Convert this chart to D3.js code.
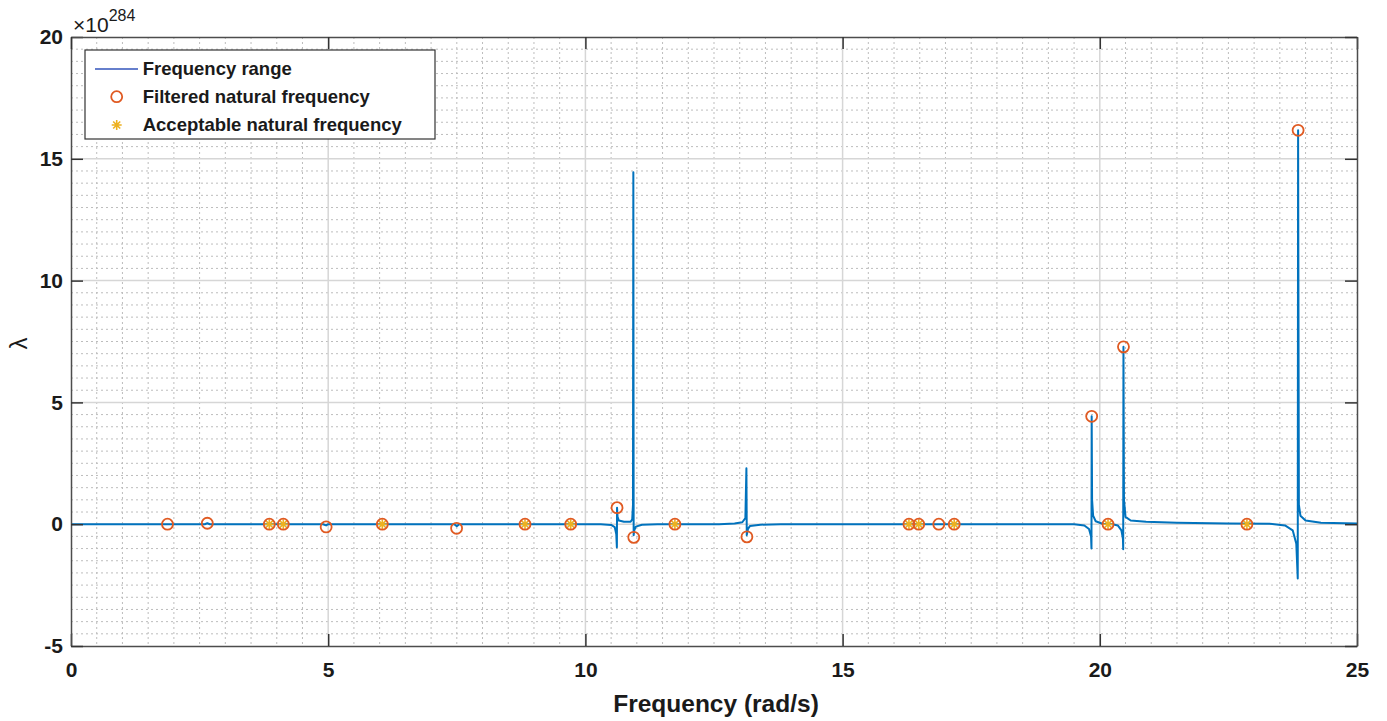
<!DOCTYPE html>
<html>
<head>
<meta charset="utf-8">
<script src="https://cdn.jsdelivr.net/npm/d3@7"></script>
<style>
  body { margin: 0; background: #fff; }
  text { font-family: "Liberation Sans", Arial, Helvetica, sans-serif; }
</style>
</head>
<body>
<div id="visual"></div>
<script>
// lambda vs frequency, values in units of 1e284

// sampled "Frequency range" curve
const lineFreq = [0, 2.6, 2.65, 2.7, 4.9, 4.96, 5.0, 7.45, 7.5, 7.55,
  10.3, 10.5, 10.57, 10.6, 10.612, 10.615, 10.625, 10.65, 10.75, 10.88, 10.91, 10.925, 10.932,
  10.938, 10.95, 10.98, 11.1, 11.4,
  12.6, 12.9, 13.05, 13.11, 13.13, 13.137, 13.16, 13.2, 13.4, 13.8,
  19.5, 19.7, 19.79, 19.83, 19.838, 19.842, 19.85, 19.87, 19.92, 20.05, 20.25,
  20.35, 20.42, 20.45, 20.455, 20.46, 20.47, 20.5, 20.6, 20.9, 21.5, 22.5,
  23.3, 23.6, 23.75, 23.82, 23.848, 23.855, 23.87, 23.9, 24.0, 24.3, 25];
const lineLambda = [0, 0, 0.04, 0, 0, -0.05, 0, 0, -0.08, 0,
  0, -0.03, -0.12, -0.4, -0.95, 0.68, 0.3, 0.15, 0.1, 0.1, 0.2, 0.8, 14.45,
  -0.45, -0.25, -0.1, -0.02, 0,
  0, 0.03, 0.08, 0.25, 2.3, -0.45, -0.2, -0.07, -0.02, 0,
  0, -0.05, -0.2, -0.5, -1.0, 4.43, 1.0, 0.35, 0.12, 0.02, 0,
  -0.05, -0.25, -0.6, -1.03, 7.28, 1.0, 0.3, 0.15, 0.1, 0.06, 0.03,
  0.02, -0.05, -0.25, -0.8, -2.23, 16.17, 0.8, 0.35, 0.15, 0.06, 0.03];

// filtered natural frequencies (circles)
const filteredFreq = [1.876, 2.65, 3.855, 4.127, 4.96, 6.052, 7.496, 8.826, 9.714, 10.615, 10.94,
  11.74, 13.14, 16.29, 16.48, 16.87, 17.17, 19.842, 20.16, 20.46, 22.86, 23.855];
const filteredLambda = [0, 0.04, 0, 0, -0.11, 0, -0.17, 0, 0, 0.68, -0.54,
  0, -0.52, 0, 0, 0, 0, 4.43, 0, 7.28, 0, 16.17];

// acceptable natural frequencies (stars)
const acceptFreq = [3.855, 4.127, 6.052, 8.826, 9.714, 11.74, 16.29, 16.48, 17.17, 20.16, 22.86];
const acceptLambda = [0, 0, 0, 0, 0, 0, 0, 0, 0, 0, 0];

const xTicks = [0, 5, 10, 15, 20, 25];
const yTicks = [-5, 0, 5, 10, 15, 20];

const legendNames = ["Frequency range", "Filtered natural frequency", "Acceptable natural frequency"];

const W = 1387, H = 721;
const mL = 71, mR = 1357, mT = 37, mB = 646;

const lineCol = "#0072BD", circCol = "#E05A22", starCol = "#EDB120";

const svg = d3.select("#visual").append("svg")
  .attr("width", W).attr("height", H);

const x = d3.scaleLinear().domain([0, 25]).range([mL, mR]);
const y = d3.scaleLinear().domain([-5, 20]).range([mB, mT]);

// minor grid (every 0.5)
const minorX = d3.range(0.5, 25, 0.5).filter(v => v % 5 !== 0);
const minorY = d3.range(-4.5, 20, 0.5).filter(v => v % 5 !== 0);

svg.append("g").selectAll("line").data(minorX).enter().append("line")
  .attr("x1", d => x(d)).attr("x2", d => x(d))
  .attr("y1", mT).attr("y2", mB)
  .attr("stroke", "#bdbdbd").attr("stroke-width", 1)
  .attr("stroke-dasharray", "2,3");

svg.append("g").selectAll("line").data(minorY).enter().append("line")
  .attr("x1", mL).attr("x2", mR)
  .attr("y1", d => y(d)).attr("y2", d => y(d))
  .attr("stroke", "#bdbdbd").attr("stroke-width", 1)
  .attr("stroke-dasharray", "2,3");

// major grid
svg.append("g").selectAll("line").data(xTicks.slice(1, -1)).enter().append("line")
  .attr("x1", d => x(d)).attr("x2", d => x(d))
  .attr("y1", mT).attr("y2", mB)
  .attr("stroke", "#d6d6d6").attr("stroke-width", 1.5);

svg.append("g").selectAll("line").data(yTicks.slice(1, -1)).enter().append("line")
  .attr("x1", mL).attr("x2", mR)
  .attr("y1", d => y(d)).attr("y2", d => y(d))
  .attr("stroke", "#d6d6d6").attr("stroke-width", 1.5);

// the curve
const pts = lineFreq.map((f, i) => [f, lineLambda[i]]);
svg.append("path")
  .datum(pts)
  .attr("fill", "none")
  .attr("stroke", lineCol)
  .attr("stroke-width", 2)
  .attr("stroke-linejoin", "round")
  .attr("d", d3.line().x(d => x(d[0])).y(d => y(d[1])));

// markers
const starPath = r => {
  const a = r * 0.7071;
  return `M${-r},0H${r}M0,${-r}V${r}M${-a},${-a}L${a},${a}M${-a},${a}L${a},${-a}`;
};

svg.append("g").selectAll("path")
  .data(acceptFreq.map((f, i) => [f, acceptLambda[i]]))
  .enter().append("path")
    .attr("transform", d => `translate(${x(d[0])},${y(d[1])})`)
    .attr("d", starPath(5))
    .attr("stroke", starCol).attr("stroke-width", 1.6).attr("fill", "none");

svg.append("g").selectAll("circle")
  .data(filteredFreq.map((f, i) => [f, filteredLambda[i]]))
  .enter().append("circle")
    .attr("cx", d => x(d[0]))
    .attr("cy", d => y(d[1]))
    .attr("r", 5.5)
    .attr("fill", "none")
    .attr("stroke", circCol)
    .attr("stroke-width", 1.8);

// axes box + ticks (inside, MATLAB style)
const axCol = "#4d4d4d";
const fmt = d => String(d);

const gx = svg.append("g")
  .attr("transform", `translate(0,${mB})`)
  .call(d3.axisBottom(x).tickValues(xTicks).tickFormat(fmt)
    .tickSizeInner(-12).tickSizeOuter(0).tickPadding(16));
const gy = svg.append("g")
  .attr("transform", `translate(${mL},0)`)
  .call(d3.axisLeft(y).tickValues(yTicks).tickFormat(fmt)
    .tickSizeInner(-12).tickSizeOuter(0).tickPadding(8));
const gt = svg.append("g")
  .attr("transform", `translate(0,${mT})`)
  .call(d3.axisTop(x).tickValues(xTicks).tickFormat("")
    .tickSizeInner(-12).tickSizeOuter(0));
const gr = svg.append("g")
  .attr("transform", `translate(${mR},0)`)
  .call(d3.axisRight(y).tickValues(yTicks).tickFormat("")
    .tickSizeInner(-12).tickSizeOuter(0));

[gx, gy, gt, gr].forEach(g => {
  g.select(".domain").attr("stroke", axCol).attr("stroke-width", 1.5);
  g.selectAll(".tick line").attr("stroke", "#333").attr("stroke-width", 1.5);
  g.selectAll(".tick text")
    .attr("font-family", "Liberation Sans, Arial, sans-serif")
    .attr("font-size", "21px")
    .attr("font-weight", "bold")
    .attr("fill", "#1a1a1a");
});

// exponent label
const ex = svg.append("text")
  .attr("x", 73).attr("y", 32)
  .attr("fill", "#1a1a1a");
ex.append("tspan").attr("font-size", "21px").text("\u00d710");
ex.append("tspan").attr("font-size", "16px").attr("dy", -11).text("284");

// axis labels
svg.append("text")
  .attr("x", (mL + mR) / 2 + 2)
  .attr("y", 712)
  .attr("text-anchor", "middle")
  .attr("font-size", "24.5px")
  .attr("font-weight", "bold")
  .attr("fill", "#1a1a1a")
  .text("Frequency (rad/s)");

svg.append("text")
  .attr("transform", `translate(27,${(mT + mB) / 2 + 2}) rotate(-90)`)
  .attr("text-anchor", "middle")
  .attr("font-size", "24px")
  .attr("fill", "#1a1a1a")
  .text("\u03bb");

// legend
const lg = svg.append("g").attr("transform", "translate(85,50)");
lg.append("rect")
  .attr("width", 350).attr("height", 89)
  .attr("fill", "#fff").attr("stroke", "#333").attr("stroke-width", 1.2);

const rowY = [19, 46.7, 75];
lg.append("line")
  .attr("x1", 10).attr("x2", 53).attr("y1", rowY[0]).attr("y2", rowY[0])
  .attr("stroke", "#3355bb").attr("stroke-width", 1.5);
lg.append("circle")
  .attr("cx", 31.7).attr("cy", rowY[1]).attr("r", 5.5)
  .attr("fill", "none").attr("stroke", circCol).attr("stroke-width", 1.8);
lg.append("path")
  .attr("transform", `translate(31.7,${rowY[2]})`)
  .attr("d", starPath(5))
  .attr("stroke", starCol).attr("stroke-width", 1.6).attr("fill", "none");

lg.selectAll("text.lab").data(legendNames).enter().append("text")
  .attr("class", "lab")
  .attr("x", 57.7)
  .attr("y", (d, i) => rowY[i])
  .attr("dy", "0.35em")
  .attr("font-size", "18.5px")
  .attr("font-weight", "bold")
  .attr("fill", "#1a1a1a")
  .text(d => d);
</script>
</body>
</html>
